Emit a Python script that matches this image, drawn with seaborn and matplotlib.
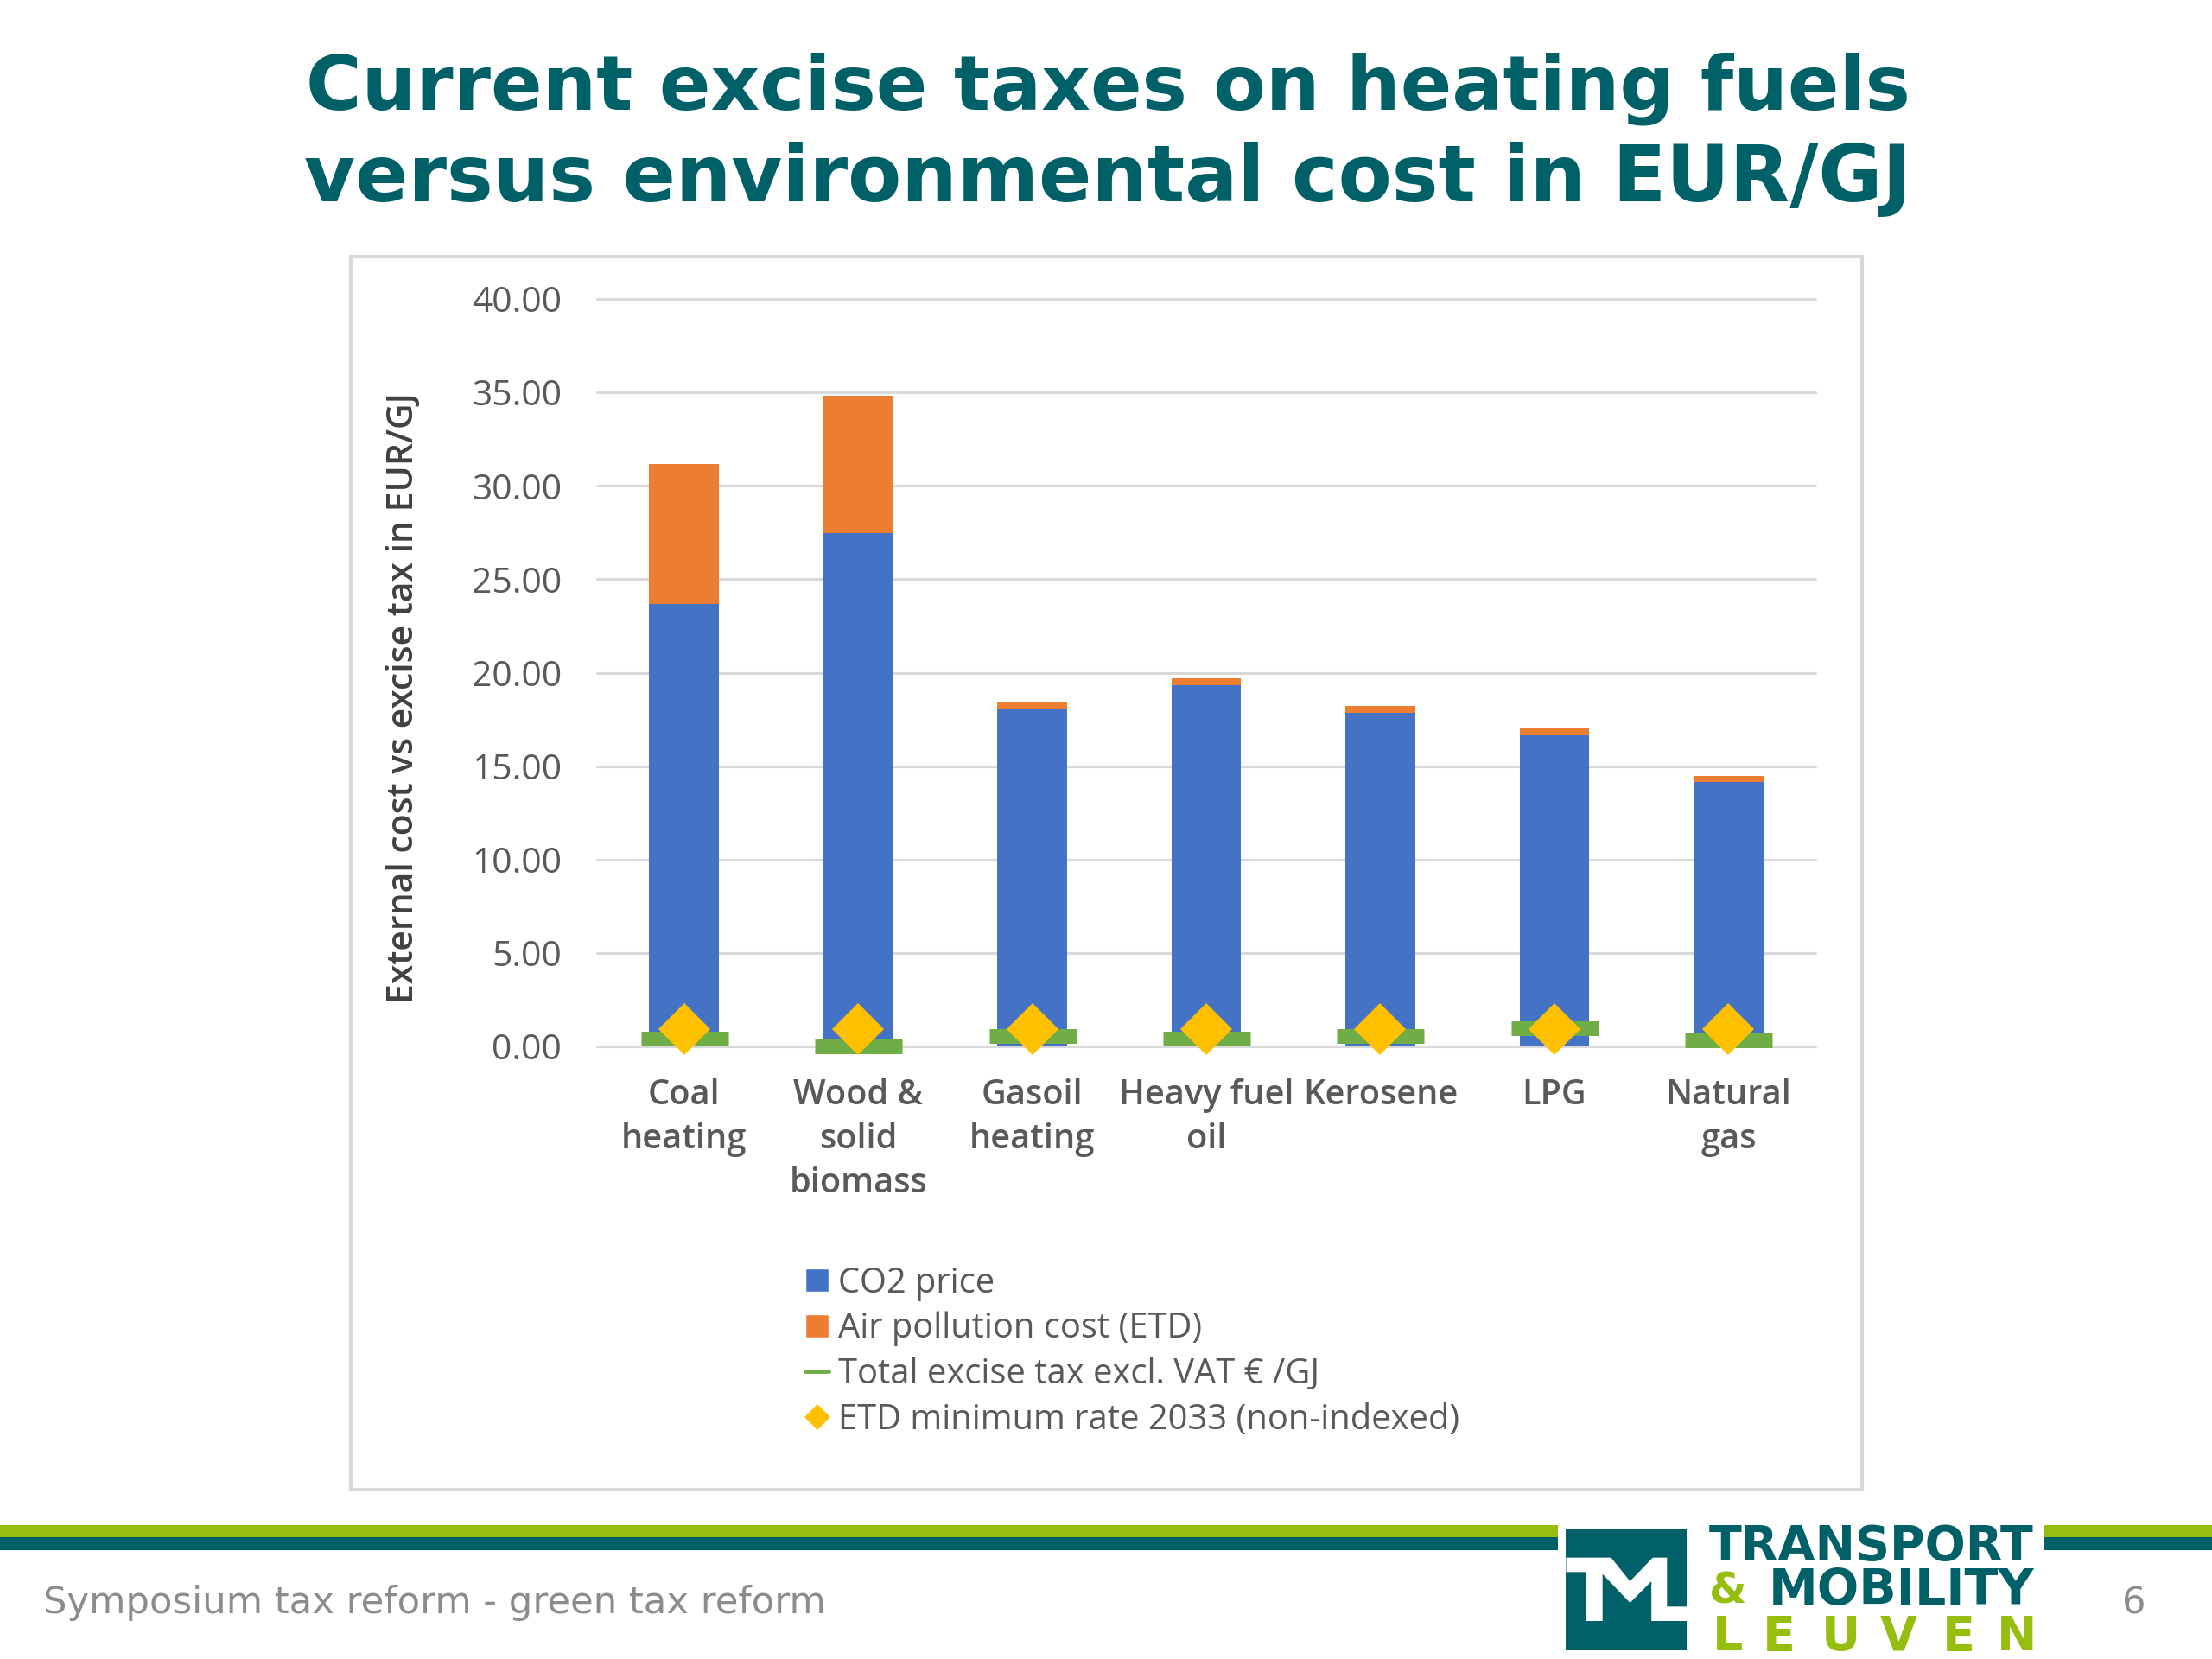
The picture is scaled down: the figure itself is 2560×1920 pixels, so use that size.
import matplotlib
matplotlib.use("Agg")
import matplotlib.pyplot as plt
import seaborn as sns
from matplotlib.lines import Line2D
from matplotlib.patches import Patch, Polygon, Rectangle

categories = ["Coal\nheating", "Wood &\nsolid\nbiomass", "Gasoil\nheating", "Heavy fuel\noil",
              "Kerosene", "LPG", "Natural\ngas"]
co2_price = [23.68, 27.45, 18.09, 19.33, 17.86, 16.65, 14.16]
air_pollution = [7.48, 7.35, 0.38, 0.35, 0.38, 0.38, 0.30]
excise_tax = [0.42, 0.00, 0.57, 0.42, 0.57, 0.95, 0.34]
etd_minimum = [0.92, 0.92, 0.92, 0.92, 0.92, 0.92, 0.92]
y_ticks = [0, 5, 10, 15, 20, 25, 30, 35, 40]
series_names = ["CO2 price", "Air pollution cost (ETD)", "Total excise tax excl. VAT € /GJ",
                "ETD minimum rate 2033 (non-indexed)"]

BLUE, ORANGE, GREEN, GOLD = "#4472C4", "#ED7D31", "#70AD47", "#FFC000"
TEAL, LIME, GREY, LIGHT = "#006068", "#95BE0E", "#595959", "#D9D9D9"
W, H = 2560, 1920
PX = 72 / 100

sns.set_theme(style="white")
plt.rcParams["font.family"] = ["Open Sans", "DejaVu Sans"]
fig = plt.figure(figsize=(W / 100, H / 100), dpi=100, facecolor="white")

bg = fig.add_axes([0, 0, 1, 1], zorder=0)
bg.set_xlim(0, W)
bg.set_ylim(H, 0)
bg.axis("off")

for line, y, size in zip(["Current excise taxes on heating fuels", "versus environmental cost in EUR/GJ"],
                         [103, 208], [63.4, 65.2]):
    bg.text(1282, y, line, ha="center", va="center", fontsize=size, fontweight="bold",
            color=TEAL, family="DejaVu Sans")

bg.add_patch(Rectangle((406, 297), 1749, 1427, fc="white", ec=LIGHT, lw=3))

# footer stripes
for x0, x1 in [(0, 1803), (2366, W)]:
    bg.add_patch(Rectangle((x0, 1765), x1 - x0, 14, fc=LIME, ec="none"))
    bg.add_patch(Rectangle((x0, 1779), x1 - x0, 15, fc=TEAL, ec="none"))
bg.text(50, 1855, "Symposium tax reform - green tax reform", ha="left", va="center", fontsize=31.2,
        color="#8C8C8C", family="DejaVu Sans")
bg.text(2470, 1855, "6", ha="center", va="center", fontsize=31.2, color="#8C8C8C", family="DejaVu Sans")

# logo
bg.add_patch(Rectangle((1812, 1769), 140, 141, fc=TEAL, ec="none"))
m_zoom = [(205, 188), (300, 188), (340, 270), (388, 188), (418, 188), (418, 358), (460, 358), (460, 408),
          (385, 408), (385, 270), (340, 345), (282, 245), (282, 408), (247, 408), (247, 238), (205, 238)]
bg.add_patch(Polygon([(1700 + x / 1.823, 1740 + y / 3) for x, y in m_zoom], fc="white", ec="none"))
logo = dict(family="DejaVu Sans", fontweight="bold", va="center", ha="left")
bg.text(1978, 1790, "TRANSPORT", fontsize=40, color=TEAL, **logo)
bg.text(1978, 1841, "&", fontsize=36, color=LIME, **logo)
bg.text(2047, 1841, "MOBILITY", fontsize=41, color=TEAL, **logo)
for letter, x in zip("LEUVEN", [1982, 2040, 2108, 2176, 2248, 2311]):
    bg.text(x, 1895, letter, fontsize=40, color=LIME, **logo)

# chart
ax = fig.add_axes([691 / W, 1 - 1211 / H, 1410 / W, 865 / H], zorder=1)
ax.patch.set_alpha(0)
sns.barplot(x=categories, y=co2_price, color=BLUE, width=0.40, saturation=1, linewidth=0, ax=ax, zorder=2)
sns.barplot(x=categories, y=air_pollution, bottom=co2_price, color=ORANGE, width=0.40, saturation=1,
            linewidth=0, ax=ax, zorder=2)
sns.pointplot(x=categories, y=excise_tax, color=GREEN, linestyle="none", marker="_", markersize=101 * PX,
              markeredgewidth=17 * PX, errorbar=None, ax=ax, zorder=3)
sns.pointplot(x=categories, y=etd_minimum, color=GOLD, linestyle="none", marker="D", markersize=43 * PX,
              markeredgewidth=0, errorbar=None, ax=ax, zorder=4)
for artist in list(ax.lines) + list(ax.collections):
    artist.set_clip_on(False)
ax.set_xlim(-0.5, 6.5)
ax.set_ylim(0, 40)
ax.set_yticks(y_ticks)
ax.set_yticklabels([f"{v:.2f}" for v in y_ticks])
ax.grid(axis="y", color=LIGHT, lw=2.2, zorder=0)
ax.set_axisbelow(True)
for gl in ax.get_ygridlines():
    gl.set_clip_on(False)
sns.despine(ax=ax, left=True, top=True, right=True, bottom=True)
ax.tick_params(axis="y", length=0, labelcolor=GREY, labelsize=29.3, pad=29.5)
ax.tick_params(axis="x", length=0, labelcolor=GREY, labelsize=28.6, pad=27)
for lab in ax.get_xticklabels():
    lab.set_linespacing(1.36)
    lab.set_fontweight("semibold")
ax.set_ylabel("External cost vs excise tax in EUR/GJ", fontsize=29.4, color="#404040", fontweight="semibold")
ax.yaxis.set_label_coords(-0.144, 0.466)

handles = [Patch(fc=BLUE, label=series_names[0]), Patch(fc=ORANGE, label=series_names[1]),
           Line2D([], [], color=GREEN, lw=3.5, label=series_names[2]),
           Line2D([], [], color=GOLD, marker="D", ms=15, ls="none", mew=0, label=series_names[3])]
leg = ax.legend(handles=handles, loc="upper left", frameon=False, fontsize=28.7, labelcolor=GREY,
                bbox_to_anchor=(932 / W, 1 - 1465 / H), bbox_transform=fig.transFigure,
                handlelength=0.68, handleheight=0.68, handletextpad=0.28, labelspacing=0.31,
                borderpad=0, borderaxespad=0)

fig.savefig("out.png", dpi=100)
